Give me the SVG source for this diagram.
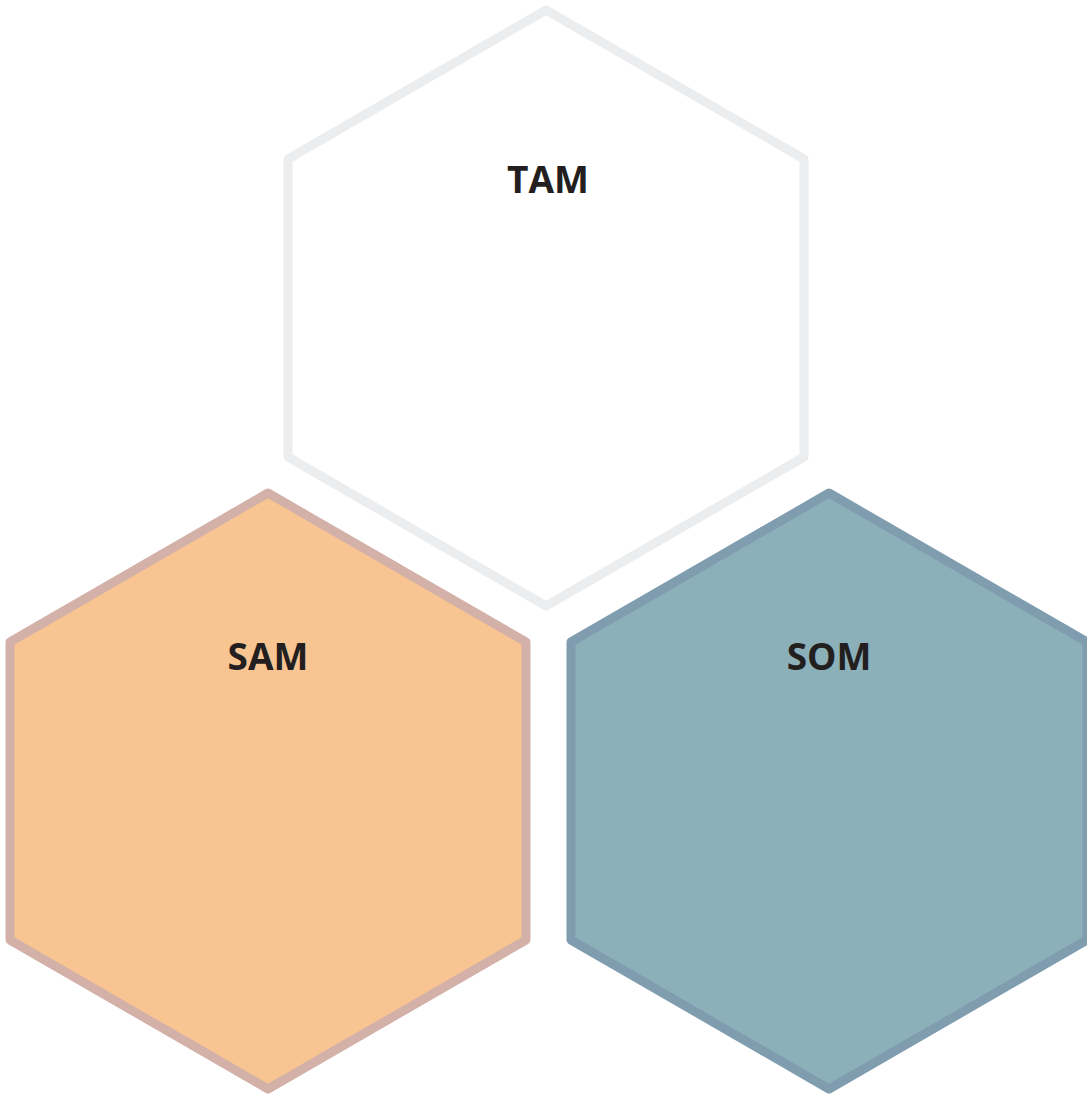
<svg xmlns="http://www.w3.org/2000/svg" width="1087" height="1095" viewBox="0 0 1087 1095">
<style>
.hex{stroke-width:9;stroke-linejoin:round}
.lbl{font-family:"Open Sans","Liberation Sans",sans-serif;font-weight:bold;font-size:37px;fill:#231F20;text-anchor:middle}
</style>
<rect width="1087" height="1095" fill="#FFFFFF"/>
<g id="tam">
<polygon class="hex" points="546,10 804,159 804,457 546,606 288,457 288,159" fill="#FFFFFF" stroke="#ECEDEF"/>
<text class="lbl" x="548" y="193">TAM</text>
</g>
<g id="sam">
<polygon class="hex" points="268,493 526,642 526,940 268,1089 10,940 10,642" fill="#F8C491" stroke="#D3B1A9"/>
<text class="lbl" x="268" y="670">SAM</text>
</g>
<g id="som">
<polygon class="hex" points="829,493 1087,642 1087,940 829,1089 571,940 571,642" fill="#8BB0B9" stroke="#7F9DAF"/>
<text class="lbl" x="829" y="670">SOM</text>
</g>
<g id="connectors"></g>
</svg>
